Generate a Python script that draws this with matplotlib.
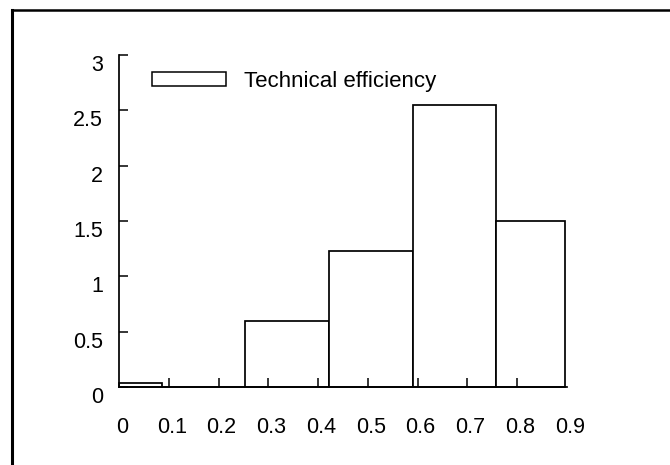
import matplotlib
matplotlib.use('Agg')

import numpy as np
import matplotlib.pyplot as plt
import matplotlib.transforms as mtransforms
from matplotlib.patches import Patch
from matplotlib.lines import Line2D

# histogram bins
bin_edges = [0.0, 0.086, 0.253, 0.421, 0.590, 0.758, 0.896]
densities = [0.04, 0.0, 0.60, 1.23, 2.55, 1.50]
x_ticks = [0, 0.1, 0.2, 0.3, 0.4, 0.5, 0.6, 0.7, 0.8, 0.9]
x_labels = ["0", "0.1", "0.2", "0.3", "0.4", "0.5", "0.6", "0.7", "0.8", "0.9"]
y_ticks = [0, 0.5, 1, 1.5, 2, 2.5, 3]
y_labels = ["0", "0.5", "1", "1.5", "2", "2.5", "3"]
legend_label = "Technical efficiency"

plt.rcParams['font.family'] = ['Liberation Sans', 'DejaVu Sans']

W, H = 670, 465
fig = plt.figure(figsize=(W / 100, H / 100), dpi=100)
fig.patch.set_facecolor('white')

# axes placed in pixel terms
ax = fig.add_axes([119 / W, (H - 387) / H, 448 / W, 332 / H])

edges = np.array(bin_edges)
ax.bar(edges[:-1], densities, width=np.diff(edges), align='edge',
       facecolor='white', edgecolor='black', linewidth=1.25, clip_on=False)

ax.set_xlim(0, 0.896)
ax.set_ylim(0, 3)
ax.set_xticks(x_ticks)
ax.set_xticklabels(x_labels)
ax.set_yticks(y_ticks)
ax.set_yticklabels(y_labels)

for side in ['top', 'right']:
    ax.spines[side].set_visible(False)
for side in ['left', 'bottom']:
    ax.spines[side].set_linewidth(1.25)

ax.tick_params(axis='both', direction='in', length=6.5, width=1.1, labelsize=15.5)
ax.tick_params(axis='x', pad=21.5)
ax.tick_params(axis='y', pad=11.5)
# no tick mark drawn at the first/last position
ax.xaxis.get_major_ticks()[0].tick1line.set_visible(False)
ax.xaxis.get_major_ticks()[-1].tick1line.set_visible(False)

# the reference labels sit slightly off their ticks
dx = mtransforms.ScaledTranslation(3 / 100, 0, fig.dpi_scale_trans)
dy = mtransforms.ScaledTranslation(0, -8 / 100, fig.dpi_scale_trans)
for lab in ax.get_xticklabels():
    lab.set_transform(lab.get_transform() + dx)
for lab in ax.get_yticklabels():
    lab.set_transform(lab.get_transform() + dy)

handle = Patch(facecolor='white', edgecolor='black', linewidth=1.1)
ax.legend([handle], [legend_label], loc='center left',
          bbox_to_anchor=((152 - 119) / 448, (387 - 81) / 332),
          frameon=False, fontsize=16, handlelength=3.35, handleheight=0.6,
          handletextpad=0.8, borderpad=0, borderaxespad=0)

# outer frame (left and top edges only)
fig.add_artist(Line2D([12 / W, 12 / W], [0, (H - 10) / H], color='black', lw=2.2,
                      transform=fig.transFigure))
fig.add_artist(Line2D([12 / W, 1], [(H - 10) / H, (H - 10) / H], color='black', lw=1.8,
                      transform=fig.transFigure))

plt.savefig("out.png", dpi=100, facecolor='white')
plt.close()
